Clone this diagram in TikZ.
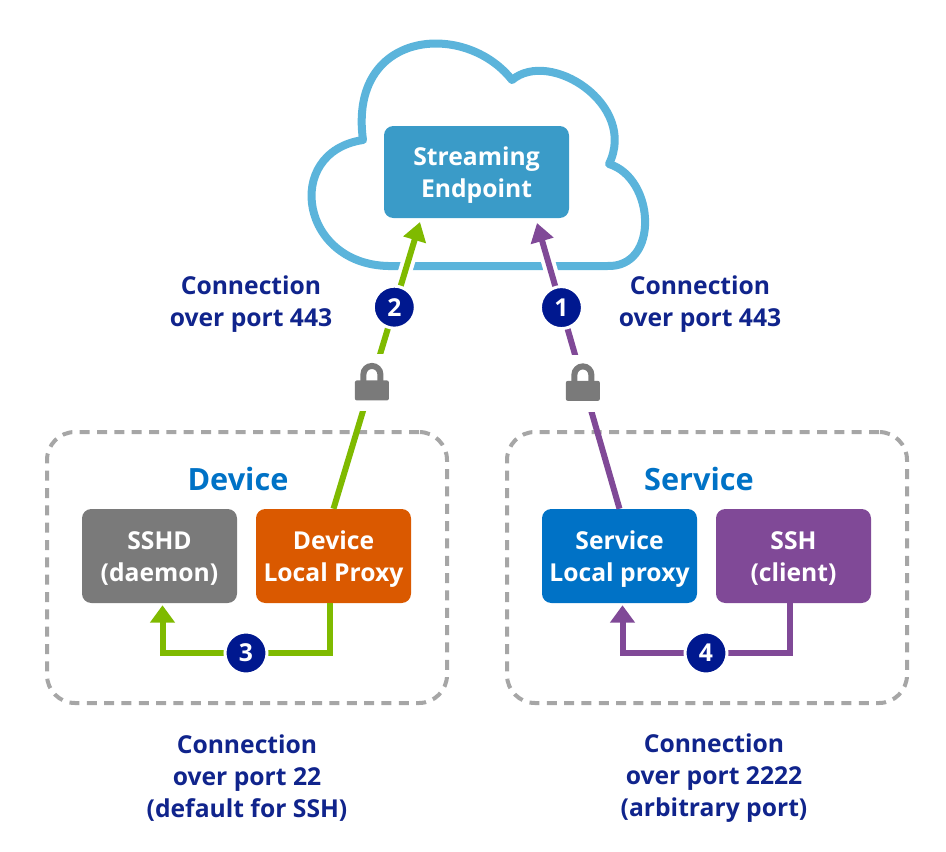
\documentclass[tikz,border=0pt]{standalone}
\usepackage{fontspec}
\setmainfont{Open Sans}
\usetikzlibrary{arrows.meta,calc}
\definecolor{cloudc}{RGB}{91,180,219}
\definecolor{streamc}{RGB}{58,155,200}
\definecolor{devblue}{RGB}{0,114,198}
\definecolor{navytext}{RGB}{16,36,140}
\definecolor{navyc}{RGB}{0,24,143}
\definecolor{grayc}{RGB}{122,122,122}
\definecolor{orangec}{RGB}{218,89,0}
\definecolor{purplec}{RGB}{128,73,151}
\definecolor{greenc}{RGB}{127,186,0}
\definecolor{dashc}{RGB}{166,166,166}
\tikzset{
  cloudline/.style={draw=cloudc, line width=6pt, line join=round},
  box/.style={rounded corners=7pt, minimum width=116.25pt, minimum height=70.5pt, inner sep=0pt},
  boxtext/.style={yshift=-2.25pt, text=white, align=center, inner sep=0pt,
    font=\bfseries\fontsize{18.5}{24}\selectfont},
  lbl/.style={text=navytext, align=center, font=\bfseries\fontsize{18.5}{24}\selectfont},
  grouptitle/.style={text=devblue, font=\bfseries\fontsize{23}{28}\selectfont},
  dashbox/.style={draw=dashc, line width=3pt, dash pattern=on 7.5pt off 5.5pt,
    rounded corners=21pt, minimum width=300pt, minimum height=203.25pt},
  numc/.style={circle, fill=navyc, draw=white, line width=2.25pt, minimum size=31.5pt,
    inner sep=0pt, text=white, font=\bfseries\fontsize{18.5}{22}\selectfont},
  halo/.style={draw=white, line width=10.5pt},
  diag/.style={line width=4.5pt, -{Triangle[width=17pt,length=14pt]}},
  elbow/.style={line width=4.5pt, -{Triangle[width=18pt,length=13pt]}},
  lock/.pic={
    \fill[white] (-19,-27) rectangle (19,30);
    \draw[grayc, line width=4.5pt] (-8.5,1) -- (-8.5,-7) arc(180:360:8.5) -- (8.5,1);
    \fill[grayc, rounded corners=1.5pt] (-17,-1) rectangle (17,19);
  }
}
\begin{document}
\begin{tikzpicture}[x=0.75pt,y=-0.75pt]
\useasboundingbox (0,0) rectangle (946,851);
% cloud
\draw[cloudline] (393,266) .. controls (300,268) and (282,152) .. (363,140)
  .. controls (348,30) and (465,20) .. (512,80)
  .. controls (550,48) and (638,105) .. (609,164)
  .. controls (655,178) and (660,268) .. (607,266)
  -- cycle;
% streaming endpoint
\node[box, fill=streamc, minimum width=138.75pt, minimum height=69pt,
  label={[boxtext]center:{Streaming\\Endpoint}}] (stream) at (476.5,172) {};
% arrow end points
\coordinate (gtip) at (420,222);
\coordinate (ptip) at (537,223);
\coordinate (devproxyN) at (333.5,509);
\coordinate (servproxyN) at (619.5,509);
% halos over cloud line
\draw[halo] (devproxyN) -- (gtip);
\draw[halo] (servproxyN) -- (ptip);
% dashed groups
\node[dashbox] (devgroup) at (247,567.5) {};
\node[dashbox] (servgroup) at (707,567.5) {};
% boxes
\node[box, fill=grayc, label={[boxtext]center:{SSHD\\(daemon)}}] (sshd) at (159.5,556) {};
\node[box, fill=orangec, label={[boxtext]center:{Device\\Local Proxy}}] (devproxy) at (333.5,556) {};
\node[box, fill=devblue, label={[boxtext]center:{Service\\Local proxy}}] (servproxy) at (619.5,556) {};
\node[box, fill=purplec, label={[boxtext]center:{SSH\\(client)}}] (ssh) at (793.5,556) {};
% titles and labels
\node[grouptitle] (devt) at (238,479) {Device};
\node[grouptitle] (servt) at (699,479) {Service};
\node[lbl] (l443a) at (251,304) {Connection\\over port 443};
\node[lbl] (l443b) at (700,304) {Connection\\over port 443};
\node[lbl] (l22) at (247,778) {Connection\\over port 22\\(default for SSH)};
\node[lbl] (l2222) at (714,778) {Connection\\over port 2222\\(arbitrary port)};
% diagonal arrows
\draw[diag, draw=greenc] (devproxy.north) -- (gtip);
\draw[diag, draw=purplec] (servproxy.north) -- (ptip);
\path (devproxy.north) -- (gtip) coordinate[pos=0.444] (lockg) coordinate[pos=0.703] (pos2);
\path (servproxy.north) -- (ptip) coordinate[pos=0.444] (lockp) coordinate[pos=0.704] (pos1);
\pic at (lockg) {lock};
\pic at (lockp) {lock};
\node[numc] (n2) at (pos2) {2};
\node[numc] (n1) at (pos1) {1};
% elbow arrows
\coordinate (n3pos) at (246,653);
\coordinate (n4pos) at (706,653);
\coordinate (e3a) at ($(devproxy.south)+(-4,0)$);
\coordinate (e3b) at ($(sshd.south)+(3,2)$);
\coordinate (e4a) at ($(ssh.south)+(-4,0)$);
\coordinate (e4b) at ($(servproxy.south)+(3,2)$);
\draw[elbow, draw=greenc] (e3a) -- (e3a |- n3pos) -- (e3b |- n3pos) -- (e3b);
\draw[elbow, draw=purplec] (e4a) -- (e4a |- n4pos) -- (e4b |- n4pos) -- (e4b);
\node[numc] (n3) at (n3pos) {3};
\node[numc] (n4) at (n4pos) {4};
\end{tikzpicture}
\end{document}
